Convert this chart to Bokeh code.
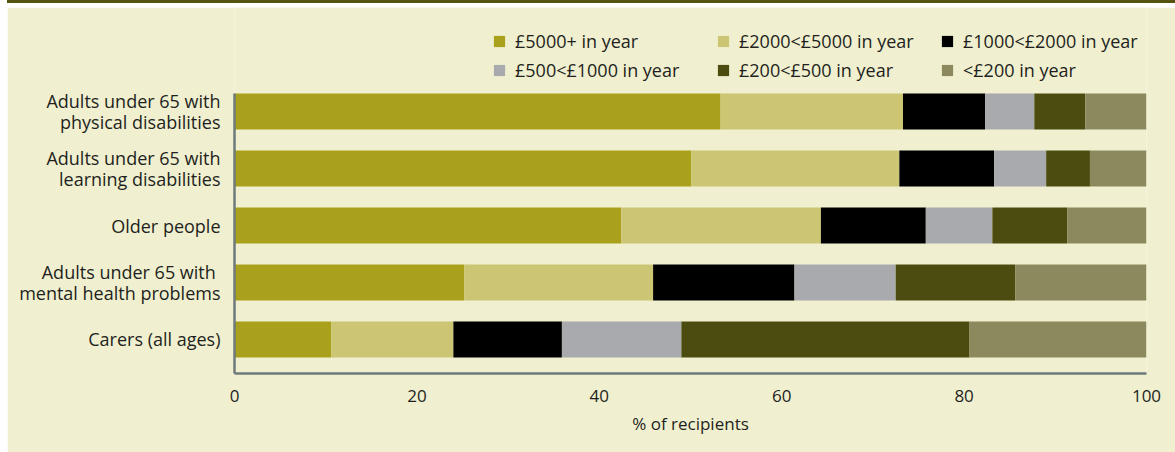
from bokeh.plotting import figure
from bokeh.models import ColumnDataSource, FixedTicker, Legend, LegendItem, Range1d, Spacer, Div
from bokeh.layouts import column, row
from bokeh.embed import file_html
from bokeh.resources import INLINE

# Categories, bottom to top
categories = [
    "Carers (all ages)",
    "Adults under 65 with \nmental health problems",
    "Older people",
    "Adults under 65 with\nlearning disabilities",
    "Adults under 65 with\nphysical disabilities",
]
bands = [
    "£5000+ in year",
    "£2000<£5000 in year",
    "£1000<£2000 in year",
    "£500<£1000 in year",
    "£200<£500 in year",
    "<£200 in year",
]
v_5000_plus = [10.6, 25.2, 42.4, 50.1, 53.3]
v_2000_5000 = [13.4, 20.7, 21.9, 22.8, 20.0]
v_1000_2000 = [11.9, 15.5, 11.5, 10.4, 9.0]
v_500_1000 = [13.1, 11.1, 7.3, 5.7, 5.4]
v_200_500 = [31.6, 13.1, 8.2, 4.8, 5.6]
v_under_200 = [19.4, 14.4, 8.7, 6.2, 6.7]
x_ticks = [0, 20, 40, 60, 80, 100]

colors = ["#A9A11B", "#CCC574", "#000000", "#A9AAAD", "#4C4C10", "#8B895D"]
keys = ["b0", "b1", "b2", "b3", "b4", "b5"]
ypos = list(range(len(categories)))

source = ColumnDataSource(dict(
    y=ypos,
    b0=v_5000_plus, b1=v_2000_5000, b2=v_1000_2000,
    b3=v_500_1000, b4=v_200_500, b5=v_under_200,
))

BG = "#F0F0D0"
DARK = "#56520F"
FONT = "Open Sans"
TXT = "#231F20"

# axis extent of the bar area; the frame extends further up to hold the legend
Y_LO, Y_HI = -0.5965, 4.3158
Y_TOP = 5.8246

p = figure(
    width=1168, height=445, output_backend="svg", toolbar_location=None,
    x_range=Range1d(0, 100), y_range=Range1d(Y_LO, Y_TOP),
    min_border_left=227, min_border_right=29, min_border_top=0, min_border_bottom=79,
    background_fill_color=BG, border_fill_color=BG, outline_line_color=None,
)

renderers = p.hbar_stack(keys, y="y", height=0.632, color=colors, line_color=None, source=source)

p.xgrid.visible = False
p.ygrid.visible = False

xa = p.xaxis[0]
xa.ticker = FixedTicker(ticks=x_ticks)
xa.axis_label = "% of recipients"
xa.axis_label_text_font = FONT
xa.axis_label_text_font_size = "17px"
xa.axis_label_text_font_style = "normal"
xa.axis_label_text_color = TXT
xa.axis_label_standoff = 7
xa.major_label_text_font = FONT
xa.major_label_text_font_size = "17px"
xa.major_label_text_color = TXT
xa.major_label_standoff = 10
xa.major_tick_line_color = None
xa.minor_tick_line_color = None
xa.axis_line_color = "#6F7A7A"
xa.axis_line_width = 2.5

ya = p.yaxis[0]
ya.bounds = (Y_LO, Y_HI)
ya.ticker = FixedTicker(ticks=ypos)
ya.major_label_overrides = {i: c for i, c in zip(ypos, categories)}
ya.major_label_text_font = FONT
ya.major_label_text_font_size = "18px"
ya.major_label_text_color = TXT
ya.major_label_text_line_height = 0.9
ya.major_label_standoff = 8
ya.major_tick_line_color = None
ya.minor_tick_line_color = None
ya.axis_line_color = "#6F7A7A"
ya.axis_line_width = 2.5

legend = Legend(
    items=[LegendItem(label=b, renderers=[r]) for b, r in zip(bands, renderers)],
    location=(258, 290.5), orientation="horizontal", ncols=3,
    glyph_width=14, glyph_height=14, label_standoff=9, label_width=198,
    label_height=26, spacing=3, padding=0, margin=0,
    border_line_color=None, background_fill_alpha=0,
    label_text_font=FONT, label_text_font_size="18px", label_text_color=TXT,
)
p.add_layout(legend)

top_rule = Div(text="", width=1168, height=3, margin=0, styles={"background-color": DARK})

layout = column(
    row(Spacer(width=7, height=3), top_rule),
    Spacer(width=1175, height=4),
    row(Spacer(width=7, height=445), p),
)

open("out.html", "w").write(file_html(layout, INLINE))
